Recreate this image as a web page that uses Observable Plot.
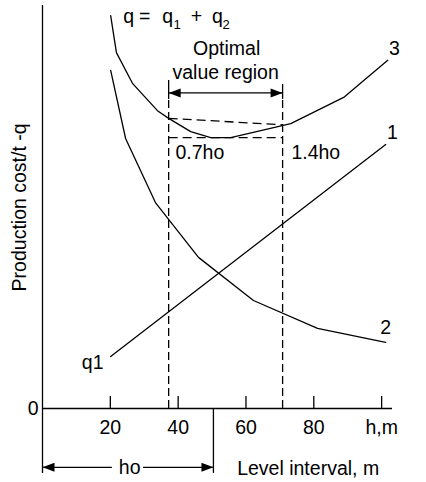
<!DOCTYPE html>
<html>
<head>
<meta charset="utf-8">
<script src="https://cdn.jsdelivr.net/npm/d3@7"></script>
<script src="https://cdn.jsdelivr.net/npm/@observablehq/plot@0.6"></script>
<style>
  html, body { margin: 0; padding: 0; background: #fff; }
</style>
</head>
<body>
<div id="chart"></div>
<script>
// ---- data ----
const xTicks = [20, 40, 60, 80, 100];
const xTickLabels = ["20", "40", "60", "80", "h,m"];
const yTicks = [0];

// curve 3: q = q1 + q2
const curve3X = [20.1, 21.8, 26.6, 33.9, 37.2, 43.7, 49.6, 55.5, 73.2, 88.8, 101.8];
const curve3Y = [97.5, 88.3, 80.6, 73.9, 72.0, 68.7, 67.2, 67.2, 70.7, 77.2, 86.4];
// curve 2
const curve2X = [20.1, 24.5, 33.3, 46.0, 62.2, 81.1, 101.2];
const curve2Y = [83.9, 67.0, 51.1, 37.5, 26.8, 19.9, 16.4];
// line 1 (q1)
const line1X = [20.1, 101.2];
const line1Y = [12.9, 65.5];

// optimal region and ho
const hoValue = 50.4;
const optLow = 37.2;   // 0.7 ho
const optHigh = 70.8;  // 1.4 ho
const optLowQ = 72.0;  // q at 0.7 ho
const optHighQ = 70.4; // q at 1.4 ho
const qMin = 67.2;

const toRows = (xs, ys) => xs.map((x, i) => ({x, y: ys[i]}));
const c3 = toRows(curve3X, curve3Y);
const c2 = toRows(curve2X, curve2Y);
const l1 = toRows(line1X, line1Y);

// filled arrowheads (tip at origin)
const headRight = {draw(ctx) { ctx.moveTo(0, 0); ctx.lineTo(-12, -4.5); ctx.lineTo(-12, 4.5); ctx.closePath(); }};
const headLeft  = {draw(ctx) { ctx.moveTo(0, 0); ctx.lineTo(12, -4.5); ctx.lineTo(12, 4.5); ctx.closePath(); }};

const FS = 19.5;
const SW = 1.3;

const chart = Plot.plot({
  width: 426,
  height: 482,
  marginLeft: 42,
  marginRight: 33,
  marginTop: 5,
  marginBottom: 74,
  x: {domain: [0, 103.5]},
  y: {domain: [0, 100]},
  style: {fontFamily: "'Liberation Sans', Arial, sans-serif", fontSize: FS + "px", background: "#fff", color: "#000"},
  marks: [
    // axes
    Plot.axisX({ticks: xTicks, tickFormat: (d) => xTickLabels[xTicks.indexOf(d)], tickSize: 0, tickPadding: 12, fontSize: FS, label: null}),
    Plot.axisY({ticks: yTicks, tickSize: 0, tickPadding: 4, fontSize: FS, label: null}),
    Plot.ruleY([0], {x1: 0, x2: 103.2, stroke: "#000", strokeWidth: SW}),
    Plot.ruleX([0], {y1: -16.1, y2: 100, stroke: "#000", strokeWidth: SW}),
    Plot.ruleX(xTicks, {y1: 0, y2: 3, stroke: "#000", strokeWidth: SW}),

    // curves
    Plot.line(c3, {x: "x", y: "y", stroke: "#000", strokeWidth: SW}),
    Plot.line(c2, {x: "x", y: "y", stroke: "#000", strokeWidth: SW}),
    Plot.line(l1, {x: "x", y: "y", stroke: "#000", strokeWidth: SW}),

    // optimal region dashed verticals with solid end bars
    Plot.ruleX([optLow, optHigh], {y1: 0, y2: 76.7, stroke: "#000", strokeWidth: SW, strokeDasharray: "8,4"}),
    Plot.ruleX([optLow], {y1: 76.7, y2: 81.4, stroke: "#000", strokeWidth: SW}),
    Plot.ruleX([optHigh], {y1: 76.7, y2: 80.4, stroke: "#000", strokeWidth: SW}),
    // dashed horizontals
    Plot.link([{x1: optLow, y1: optLowQ, x2: optHigh, y2: optHighQ}], {x1: "x1", y1: "y1", x2: "x2", y2: "y2", stroke: "#000", strokeWidth: SW, strokeDasharray: "9,5"}),
    Plot.link([{x1: optLow, y1: qMin, x2: optHigh, y2: qMin}], {x1: "x1", y1: "y1", x2: "x2", y2: "y2", stroke: "#000", strokeWidth: SW, strokeDasharray: "9,5"}),
    // optimal arrow
    Plot.ruleY([78.3], {x1: optLow, x2: optHigh, stroke: "#000", strokeWidth: SW}),
    Plot.dot([{x: optLow, y: 78.3}], {x: "x", y: "y", symbol: headLeft, fill: "#000", stroke: "none", r: 5}),
    Plot.dot([{x: optHigh, y: 78.3}], {x: "x", y: "y", symbol: headRight, fill: "#000", stroke: "none", r: 5}),

    // ho bracket
    Plot.ruleX([hoValue], {y1: -16.1, y2: 0, stroke: "#000", strokeWidth: SW}),
    Plot.ruleY([-14.6], {x1: 0, x2: 20.6, stroke: "#000", strokeWidth: SW}),
    Plot.ruleY([-14.6], {x1: 29.8, x2: hoValue, stroke: "#000", strokeWidth: SW}),
    Plot.dot([{x: 0, y: -14.6}], {x: "x", y: "y", symbol: headLeft, fill: "#000", stroke: "none", r: 5}),
    Plot.dot([{x: hoValue, y: -14.6}], {x: "x", y: "y", symbol: headRight, fill: "#000", stroke: "none", r: 5}),

    // annotations: q = q1 + q2
    Plot.text(["q"], {x: 23.8, y: 97.1, textAnchor: "start", fontSize: FS}),
    Plot.text(["="], {x: 30.1, y: 97.1, textAnchor: "middle", fontSize: FS}),
    Plot.text(["q"], {x: 35.3, y: 97.1, textAnchor: "start", fontSize: FS}),
    Plot.text(["1"], {x: 38.6, y: 95.2, textAnchor: "start", fontSize: 13}),
    Plot.text(["+"], {x: 45.4, y: 97.1, textAnchor: "middle", fontSize: FS}),
    Plot.text(["q"], {x: 50.0, y: 97.1, textAnchor: "start", fontSize: FS}),
    Plot.text(["2"], {x: 53.1, y: 95.2, textAnchor: "start", fontSize: 13}),

    Plot.text(["Optimal"], {x: 54.3, y: 89.3, textAnchor: "middle", fontSize: FS}),
    Plot.text(["value region"], {x: 54.0, y: 83.4, textAnchor: "middle", fontSize: FS}),
    Plot.text(["0.7ho"], {x: 39.2, y: 63.5, textAnchor: "start", fontSize: FS}),
    Plot.text(["1.4ho"], {x: 73.4, y: 63.5, textAnchor: "start", fontSize: FS}),
    Plot.text(["3"], {x: 103.8, y: 89.2, textAnchor: "middle", fontSize: FS}),
    Plot.text(["1"], {x: 103.2, y: 68.5, textAnchor: "middle", fontSize: FS}),
    Plot.text(["2"], {x: 101.2, y: 20.1, textAnchor: "middle", fontSize: FS}),
    Plot.text(["q1"], {x: 18.0, y: 11.4, textAnchor: "end", fontSize: FS}),
    Plot.text(["ho"], {x: 25.7, y: -14.6, textAnchor: "middle", fontSize: FS}),
    Plot.text(["Level interval, m"], {x: 57.4, y: -15.0, textAnchor: "start", fontSize: FS}),
    Plot.text(["Production cost/t -q"], {x: -6.6, y: 49.9, rotate: -90, textAnchor: "middle", fontSize: FS})
  ]
});
document.getElementById("chart").appendChild(chart);
</script>
</body>
</html>
